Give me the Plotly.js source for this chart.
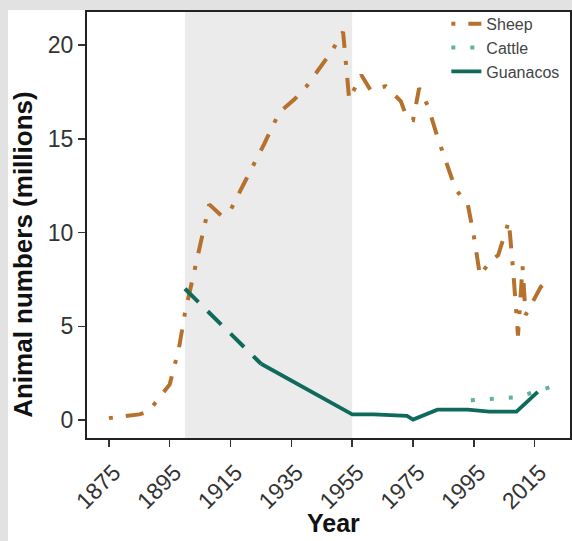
<!DOCTYPE html>
<html>
<head>
<meta charset="utf-8">
<script src="https://cdn.plot.ly/plotly-3.0.1.min.js"></script>
<style>
  html, body { margin: 0; padding: 0; background: #e2e2e2; width: 572px; height: 541px; overflow: hidden; }
  #paperbg { position: absolute; left: 8px; top: 10px; width: 564px; height: 531px; background: #fff; }
  #chart { position: absolute; left: 0; top: 0; width: 572px; height: 541px; }
</style>
</head>
<body>
<div id="paperbg"></div>
<div id="chart"></div>
<script>
// ---- data ----
const sheepYears = [1875,1885,1888,1891,1895,1898,1900,1904,1908,1912,1915,1920,1926,1931,1936,1940,1948,1952,1954,1958,1961,1966,1971,1973,1975,1977,1980,1983,1989,1993,1995,1997,2000,2003,2006.5,2008,2009.5,2011,2012,2014,2017,2020.5];
const sheepValues = [0.1,0.3,0.45,1.1,1.9,3.8,5.7,8.6,11.5,10.9,11.2,12.8,14.7,16.4,17.1,17.8,19.6,20.7,17.1,18.4,17.6,17.8,17.0,16.1,16.0,17.7,16.7,15.1,12.3,11.5,9.8,7.7,8.4,8.8,10.6,7.8,4.5,8.2,5.6,6.2,7.1,7.6];

const cattleYears = [1994,2002,2008,2013,2020];
const cattleValues = [1.05,1.15,1.2,1.4,1.75];

const guanacoEstYears = [1900,1925];
const guanacoEstValues = [7.0,3.0];
const guanacoYears = [1925,1955,1962,1973,1975,1983,1993,2000,2009,2016];
const guanacoValues = [3.0,0.3,0.3,0.22,0.02,0.55,0.55,0.45,0.45,1.5];

const shadeStart = 1900, shadeEnd = 1955;
const xTickVals = [1875,1895,1915,1935,1955,1975,1995,2015];
const yTickVals = [0,5,10,15,20];

const xTitle = 'Year';
const yTitle = 'Animal numbers (millions)';

const sheepColor = '#b6712d';
const guanacoColor = '#0f6a5c';
const cattleColor = '#5fb1a4';
const FONT = 'Liberation Sans, Arial, sans-serif';

const traces = [
  {x: sheepYears, y: sheepValues, name: 'Sheep', mode: 'lines',
   line: {color: sheepColor, width: 4, dash: '4px,13px,18px,13px'}},
  {x: cattleYears, y: cattleValues, name: 'Cattle', mode: 'lines',
   line: {color: cattleColor, width: 4, dash: '4px,15px'}},
  {x: guanacoEstYears, y: guanacoEstValues, name: 'Guanacos (est.)', mode: 'lines', showlegend: false,
   line: {color: guanacoColor, width: 4, dash: '19px,13px'}},
  {x: guanacoYears, y: guanacoValues, name: 'Guanacos', mode: 'lines',
   line: {color: guanacoColor, width: 3.8}}
];

const layout = {
  width: 572, height: 541,
  margin: {l: 87, r: 2, t: 12, b: 103},
  paper_bgcolor: 'rgba(0,0,0,0)',
  plot_bgcolor: '#ffffff',
  font: {family: FONT, color: '#333333'},
  showlegend: true,
  legend: {x: 0.744, y: 1.012, xanchor: 'left', yanchor: 'top',
           bgcolor: 'rgba(0,0,0,0)', font: {size: 16, color: '#444'},
           tracegroupgap: 0, itemwidth: 30},
  shapes: [
    {type: 'rect', xref: 'x', yref: 'paper', x0: shadeStart, x1: shadeEnd, y0: 0, y1: 1,
     fillcolor: '#ebebeb', line: {width: 0}, layer: 'below'}
  ],
  annotations: [
    {text: '<b>' + xTitle + '</b>', xref: 'paper', yref: 'paper', x: 0.511, y: -0.2,
     xanchor: 'center', yanchor: 'middle', showarrow: false, font: {size: 25, color: '#111'}},
    {text: '<b>' + yTitle + '</b>', xref: 'paper', yref: 'paper', x: -0.1325, y: 0.43,
     xanchor: 'center', yanchor: 'middle', textangle: -90, showarrow: false, font: {size: 26, color: '#111'}}
  ],
  xaxis: {
    range: [1867.8, 2026.6], tickvals: xTickVals, ticktext: xTickVals.map(String),
    tickangle: -45, ticks: 'outside', ticklen: 7, tickwidth: 1.5, tickcolor: '#333',
    showline: true, linecolor: '#222', linewidth: 2, mirror: true,
    showgrid: false, zeroline: false, automargin: false,
    ticklabelshift: 5, ticklabelstandoff: 3,
    tickfont: {size: 23, color: '#333'}
  },
  yaxis: {
    range: [-0.96, 21.76], tickvals: yTickVals, ticktext: yTickVals.map(String),
    ticks: 'outside', ticklen: 7, tickwidth: 1.5, tickcolor: '#333',
    showline: true, linecolor: '#222', linewidth: 2, mirror: true,
    showgrid: false, zeroline: false, automargin: false,
    tickfont: {size: 23, color: '#333'}
  }
};

Plotly.newPlot('chart', traces, layout, {displayModeBar: false, staticPlot: true});
</script>
</body>
</html>
